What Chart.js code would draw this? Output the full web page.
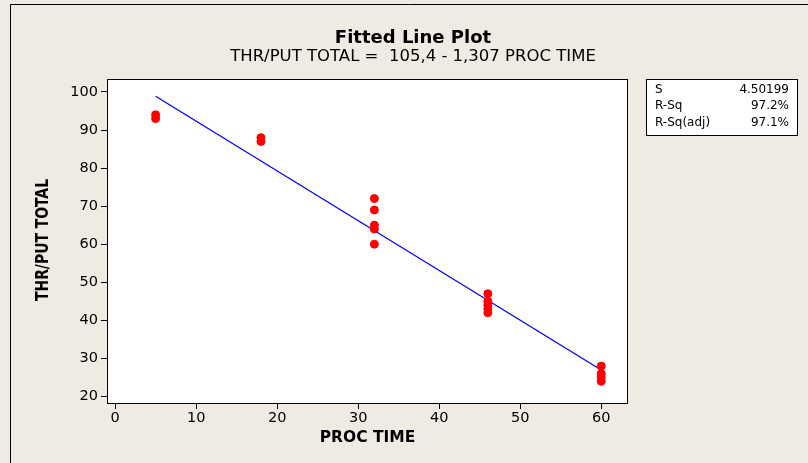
<!DOCTYPE html>
<html>
<head>
<meta charset="utf-8">
<script src="https://cdn.jsdelivr.net/npm/chart.js@4/dist/chart.umd.min.js"></script>
<style>
  html, body { margin: 0; padding: 0; background: #EFEBE2; }
  #wrap { width: 808px; height: 463px; position: relative; }
</style>
</head>
<body>
<div id="wrap"><canvas id="c" width="808" height="463"></canvas></div>
<script>
// Observations: processing time vs. total throughput
const procTime = [5, 5, 18, 18, 32, 32, 32, 32, 32, 46, 46, 46, 46, 46, 60, 60, 60, 60];
const thrPut   = [94, 93, 88, 87, 72, 69, 65, 64, 60, 47, 45, 44, 43, 42, 28, 26, 25, 24];

// Regression line: THR/PUT TOTAL = 105,4 - 1,307 PROC TIME
const fitIntercept = 105.4;
const fitSlope = -1.307;
const fitRange = [5, 60];

// Axis ticks
const xTicks = [0, 10, 20, 30, 40, 50, 60];
const yTicks = [20, 30, 40, 50, 60, 70, 80, 90, 100];

// Summary statistics
const statNames  = ['S', 'R-Sq', 'R-Sq(adj)'];
const statValues = ['4.50199', '97.2%', '97.1%'];

const titleText = 'Fitted Line Plot';
const subtitleText = 'THR/PUT TOTAL =  105,4 - 1,307 PROC TIME';
const xTitle = 'PROC TIME';
const yTitle = 'THR/PUT TOTAL';

const points = procTime.map((x, i) => ({ x: x, y: thrPut[i] }));
const fitPoints = fitRange.map(x => ({ x: x, y: fitIntercept + fitSlope * x }));

const BG = '#EFEBE2';
const tickFont = { family: 'DejaVu Sans', size: 14.5 };

const decor = {
  id: 'decor',
  beforeDraw(chart) {
    const ctx = chart.ctx;
    const a = chart.chartArea;
    ctx.save();
    ctx.fillStyle = BG;
    ctx.fillRect(0, 0, chart.width, chart.height);
    // outer frame
    ctx.strokeStyle = '#000';
    ctx.lineWidth = 1;
    ctx.beginPath();
    ctx.moveTo(10.5, chart.height);
    ctx.lineTo(10.5, 4.5);
    ctx.lineTo(chart.width, 4.5);
    ctx.stroke();
    // plot background
    ctx.fillStyle = '#FFFFFF';
    ctx.fillRect(a.left, a.top, a.right - a.left, a.bottom - a.top);
    ctx.restore();
  },
  afterDraw(chart) {
    const ctx = chart.ctx;
    const a = chart.chartArea;
    ctx.save();
    ctx.strokeStyle = '#000';
    ctx.lineWidth = 1;
    ctx.strokeRect(a.left + 0.5, a.top + 0.5, a.right - a.left - 1, a.bottom - a.top);

    ctx.fillStyle = '#000';
    ctx.textAlign = 'center';
    ctx.textBaseline = 'middle';
    ctx.font = 'bold 18px "DejaVu Sans"';
    ctx.fillText(titleText, 413, 38);
    ctx.font = '16.5px "DejaVu Sans"';
    ctx.fillText(subtitleText, 413, 57);

    // axis titles
    ctx.font = 'bold 15.5px "DejaVu Sans"';
    ctx.fillText(xTitle, (a.left + a.right) / 2, 438);
    ctx.save();
    ctx.translate(44, 240);
    ctx.rotate(-Math.PI / 2);
    ctx.font = 'bold 17px "DejaVu Sans Condensed", sans-serif';
    const w = ctx.measureText(yTitle).width;
    ctx.scale(122 / w, 1);
    ctx.fillText(yTitle, 0, 0);
    ctx.restore();

    // statistics box
    const bx = 646, by = 79, bw = 152, bh = 57;
    ctx.fillStyle = '#FFFFFF';
    ctx.fillRect(bx, by, bw, bh);
    ctx.strokeRect(bx + 0.5, by + 0.5, bw - 1, bh - 1);
    ctx.fillStyle = '#000';
    ctx.font = '12px "DejaVu Sans"';
    const rowY = [90, 106, 123];
    statNames.forEach((n, i) => {
      ctx.textAlign = 'left';
      ctx.fillText(n, 655, rowY[i]);
      ctx.textAlign = 'right';
      ctx.fillText(statValues[i], 789, rowY[i]);
    });
    ctx.restore();
  }
};

new Chart(document.getElementById('c'), {
  type: 'scatter',
  data: {
    datasets: [
      {
        type: 'scatter',
        data: points,
        pointRadius: 4,
        pointHoverRadius: 4,
        backgroundColor: '#FF0000',
        borderColor: '#FF0000',
        borderWidth: 1,
        order: 0
      },
      {
        type: 'line',
        data: fitPoints,
        borderColor: '#0000FF',
        borderWidth: 1.3,
        pointRadius: 0,
        fill: false,
        tension: 0,
        order: 1
      }
    ]
  },
  options: {
    responsive: false,
    animation: false,
    devicePixelRatio: 1,
    layout: { padding: { left: 0, top: 79, right: 180, bottom: 0 } },
    plugins: { legend: { display: false }, tooltip: { enabled: false }, title: { display: false } },
    scales: {
      x: {
        type: 'linear',
        min: -1,
        max: 63.3,
        afterBuildTicks: s => { s.ticks = xTicks.map(v => ({ value: v })); },
        afterFit: s => { s.height = 60; },
        border: { display: false },
        grid: { display: true, drawOnChartArea: false, drawTicks: true, tickLength: 6, color: '#000', tickColor: '#000' },
        ticks: { color: '#000', font: tickFont, padding: 1, maxRotation: 0, autoSkip: false }
      },
      y: {
        type: 'linear',
        min: 18.3,
        max: 103.4,
        afterBuildTicks: s => { s.ticks = yTicks.map(v => ({ value: v })); },
        afterFit: s => { s.width = 107; },
        border: { display: false },
        grid: { display: true, drawOnChartArea: false, drawTicks: true, tickLength: 6, color: '#000', tickColor: '#000' },
        ticks: { color: '#000', font: tickFont, padding: 3, autoSkip: false }
      }
    }
  },
  plugins: [decor]
});
</script>
</body>
</html>
